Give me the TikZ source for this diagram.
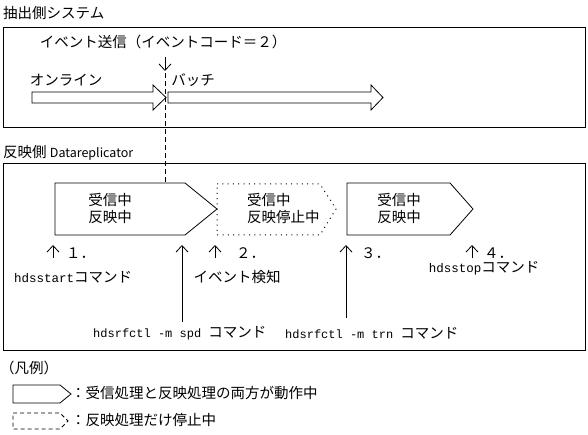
\documentclass[tikz,border=0pt]{standalone}
\usepackage{fontspec}
\setmainfont{Noto Sans CJK JP}
\newfontfamily\monof{Liberation Mono}
\usetikzlibrary{arrows.meta}
\begin{document}
\begin{tikzpicture}[x=1pt,y=-1pt,
  every node/.style={inner sep=0pt, font=\fontsize{14.5}{17}\selectfont},
  frame/.style={draw, line width=1.3pt},
  shp/.style={draw, line width=0.8pt},
  dotshp/.style={draw, line width=1pt, dash pattern=on 1pt off 4.3pt},
  dashshp/.style={draw, line width=0.8pt, dash pattern=on 4pt off 3pt},
  dashline/.style={draw, line width=0.9pt, dash pattern=on 5pt off 3pt},
  arr/.style={draw, line width=0.8pt, -{Straight Barb[length=6.5pt,width=12pt,line width=0.8pt]}}]
\useasboundingbox (0,0) rectangle (588,435);

% ---- upper system ----
\node[anchor=west] (t1) at (3,13) {抽出側システム};
\node[frame, anchor=north west, minimum width=582pt, minimum height=100pt] (sys) at (3,27) {};
\node (ev) at (163,42) {イベント送信（イベントコード＝２）};
\coordinate (d1) at (165,57);
\coordinate (d2) at (165,71);
\draw[arr] (d1) -- (d2);
\coordinate (l1) at (165,73);
\coordinate (l2) at (165,183);
\draw[dashline] (l1) -- (l2);

\node (on) at (66,80) {オンライン};
\node (ba) at (193,80) {バッチ};
\draw[shp] (32,92) -- (153,92) -- (153,85) -- (166,97.5) -- (153,110) -- (153,103) -- (32,103) -- cycle;
\draw[shp] (168,92) -- (371,92) -- (371,85) -- (383,97.5) -- (371,110) -- (371,103) -- (168,103) -- cycle;

% ---- lower system ----
\node[anchor=west] (t2) at (3,153) {反映側 {\fontsize{12.5}{14}\selectfont Datareplicator}};
\node[frame, anchor=north west, minimum width=582pt, minimum height=187pt] (rep) at (3,163) {};

\draw[shp] (55,183) -- (185,183) -- (217,209) -- (185,235) -- (55,235) -- cycle;
\node[align=center] (s1) at (110,208.5) {受信中\\反映中};
\draw[dotshp] (217,184) -- (320,184) -- (336,209) -- (320,235) -- (217,235) -- cycle;
\node[align=left, anchor=west] (s2) at (247,208.5) {受信中\\反映停止中};
\draw[shp] (347,183) -- (450,183) -- (473,209) -- (450,235) -- (347,235) -- cycle;
\node[align=center] (s3) at (399,208.5) {受信中\\反映中};

% arrows and labels
\coordinate (a1b) at (53,258); \coordinate (a1t) at (53,245);
\draw[arr] (a1b) -- (a1t);
\node[anchor=west] (n1) at (66,253) {１．};
\node[anchor=west] (c1) at (14,277) {{\monof\fontsize{12.5}{14}\selectfont hdsstart}コマンド};

\coordinate (spdb) at (182,322); \coordinate (spdt) at (182,245);
\draw[arr] (spdb) -- (spdt);

\coordinate (a2b) at (215,258); \coordinate (a2t) at (215,245);
\draw[arr] (a2b) -- (a2t);
\node[anchor=west] (n2) at (236,253) {２．};
\node (c2) at (237,277) {イベント検知};

\coordinate (trnb) at (346,318); \coordinate (trnt) at (346,245);
\draw[arr] (trnb) -- (trnt);
\node[anchor=west] (n3) at (361,253) {３．};

\coordinate (a4b) at (472,258); \coordinate (a4t) at (472,245);
\draw[arr] (a4b) -- (a4t);
\node[anchor=west] (n4) at (484,253) {４．};
\node (c4) at (484,268) {{\monof\fontsize{12.5}{14}\selectfont hdsstop}コマンド};

\node[anchor=west] (c5) at (93,333) {{\monof\fontsize{12}{14}\selectfont hdsrfctl -m spd }コマンド};
\node[anchor=west] (c6) at (285,333) {{\monof\fontsize{12}{14}\selectfont hdsrfctl -m trn }コマンド};

% ---- legend ----
\node[anchor=west] (lg) at (0,368) {（凡例）};
\draw[shp] (13,385) -- (60,385) -- (71,394) -- (60,403) -- (13,403) -- cycle;
\node[anchor=west] (lg1) at (71,393) {：受信処理と反映処理の両方が動作中};
\draw[dashshp] (13,413) -- (60,413) -- (68,421) -- (60,429) -- (13,429) -- cycle;
\node[anchor=west] (lg2) at (71,420) {：反映処理だけ停止中};
\end{tikzpicture}
\end{document}
